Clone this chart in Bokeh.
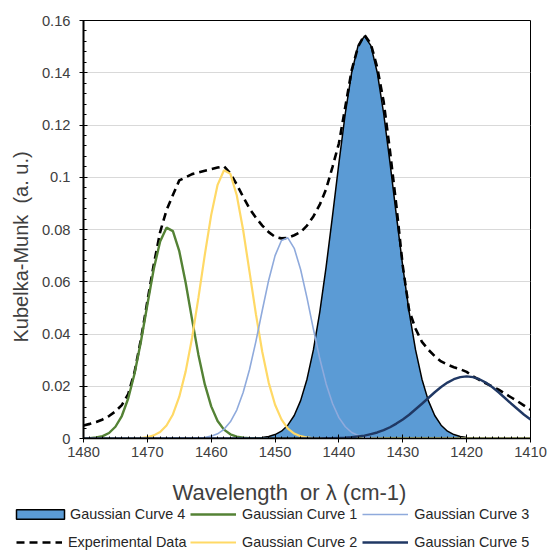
from bokeh.plotting import figure
from bokeh.models import (Range1d, SingleIntervalTicker, NumeralTickFormatter, Legend,
                          LegendItem, Title, Label)
from bokeh.embed import file_html
from bokeh.resources import INLINE

# wavenumber sample points (cm-1), 1480 -> 1410
wavenumber = list(range(1480, 1409, -1))

experimental = [
    0.0050, 0.0056, 0.0063, 0.0073, 0.0086, 0.0104, 0.0128, 0.0170, 0.0255, 0.0380,
    0.0525, 0.0665, 0.0790, 0.0874, 0.0932, 0.0988, 0.1000, 0.1012, 0.1018, 0.1025,
    0.1031, 0.1037, 0.1042, 0.1015, 0.0972, 0.0925, 0.0880, 0.0845, 0.0815, 0.0790,
    0.0772, 0.0766, 0.0768, 0.0778, 0.0790, 0.0815, 0.0850, 0.0895, 0.0955, 0.1040,
    0.1130, 0.1270, 0.1410, 0.1500, 0.1545, 0.1510, 0.1420, 0.1290, 0.1100, 0.0890,
    0.0660, 0.0490, 0.0420, 0.0370, 0.0340, 0.0315, 0.0295, 0.0283, 0.0273, 0.0265,
    0.0255, 0.0238, 0.0224, 0.0211, 0.0199, 0.0187, 0.0172, 0.0157, 0.0142, 0.0126,
    0.0110]

gauss1 = [
    0.0000, 0.0001, 0.0004, 0.0009, 0.0021, 0.0045, 0.0086, 0.0153, 0.0249, 0.0372,
    0.0512, 0.0649, 0.0754, 0.0807, 0.0794, 0.0717, 0.0596, 0.0456, 0.0320, 0.0207,
    0.0123, 0.0067, 0.0034, 0.0016, 0.0007, 0.0003, 0.0001, 0, 0, 0,
    0, 0, 0, 0, 0, 0, 0, 0, 0, 0,
    0, 0, 0, 0, 0, 0, 0, 0, 0, 0,
    0, 0, 0, 0, 0, 0, 0, 0, 0, 0,
    0, 0, 0, 0, 0, 0, 0, 0, 0, 0,
    0]

gauss2 = [
    0, 0, 0, 0, 0, 0, 0, 0, 0.0001, 0.0002,
    0.0005, 0.0012, 0.0025, 0.0050, 0.0092, 0.0160, 0.0257, 0.0385, 0.0539, 0.0704,
    0.0856, 0.0971, 0.1027, 0.1013, 0.0931, 0.0798, 0.0638, 0.0476, 0.0331, 0.0214,
    0.0129, 0.0073, 0.0038, 0.0019, 0.0009, 0.0004, 0.0001, 0.0001, 0, 0,
    0, 0, 0, 0, 0, 0, 0, 0, 0, 0,
    0, 0, 0, 0, 0, 0, 0, 0, 0, 0,
    0, 0, 0, 0, 0, 0, 0, 0, 0, 0,
    0]

gauss3 = [
    0, 0, 0, 0, 0, 0, 0, 0, 0, 0,
    0, 0, 0, 0, 0, 0, 0, 0, 0.0002, 0.0004,
    0.0009, 0.0018, 0.0035, 0.0064, 0.0109, 0.0176, 0.0264, 0.0372, 0.0491, 0.0606,
    0.0700, 0.0758, 0.0768, 0.0728, 0.0647, 0.0538, 0.0419, 0.0306, 0.0209, 0.0134,
    0.0080, 0.0045, 0.0023, 0.0012, 0.0005, 0.0002, 0.0001, 0, 0, 0,
    0, 0, 0, 0, 0, 0, 0, 0, 0, 0,
    0, 0, 0, 0, 0, 0, 0, 0, 0, 0,
    0]

gauss4 = [
    0, 0, 0, 0, 0, 0, 0, 0, 0, 0,
    0, 0, 0, 0, 0, 0, 0, 0, 0, 0,
    0, 0, 0, 0, 0, 0, 0.0001, 0.0002, 0.0004, 0.0008,
    0.0015, 0.0028, 0.0051, 0.0088, 0.0145, 0.0227, 0.0339, 0.0484, 0.0658, 0.0853,
    0.1055, 0.1245, 0.1401, 0.1504, 0.1540, 0.1504, 0.1401, 0.1245, 0.1055, 0.0853,
    0.0658, 0.0484, 0.0339, 0.0227, 0.0145, 0.0088, 0.0051, 0.0028, 0.0015, 0.0008,
    0.0004, 0.0002, 0.0001, 0, 0, 0, 0, 0, 0, 0,
    0]

gauss5 = [
    0, 0, 0, 0, 0, 0, 0, 0, 0, 0,
    0, 0, 0, 0, 0, 0, 0, 0, 0, 0,
    0, 0, 0, 0, 0, 0, 0, 0, 0, 0,
    0, 0, 0, 0, 0, 0, 0, 0, 0.0001, 0.0001,
    0.0002, 0.0003, 0.0005, 0.0008, 0.0011, 0.0017, 0.0023, 0.0032, 0.0043, 0.0057,
    0.0073, 0.0091, 0.0112, 0.0133, 0.0155, 0.0177, 0.0197, 0.0214, 0.0227, 0.0235,
    0.0238, 0.0235, 0.0227, 0.0214, 0.0197, 0.0177, 0.0155, 0.0133, 0.0112, 0.0091,
    0.0073]

FONT = "Liberation Sans"
TXT = "#404040"

STY4 = dict(fill_color="#5B9BD5", line_color="black", line_width=1.5)
STYE = dict(line_color="black", line_width=2.6, line_dash="8 5")
STY1 = dict(line_color="#548235", line_width=2.4)
STY2 = dict(line_color="#FFD966", line_width=2.2)
STY3 = dict(line_color="#8FAADC", line_width=1.6)
STY5 = dict(line_color="#203864", line_width=2.4)

p = figure(width=547, height=465, x_range=Range1d(1480, 1410), y_range=Range1d(0, 0.16),
           output_backend="svg", toolbar_location=None,
           min_border_left=83, min_border_right=17, min_border_top=20, min_border_bottom=27)
p.outline_line_color = "black"
p.outline_line_width = 1
p.xgrid.visible = False
p.ygrid.grid_line_color = "#D9D9D9"
p.ygrid.grid_line_width = 1.2

p.patch(wavenumber + [wavenumber[-1], wavenumber[0]], gauss4 + [0, 0], **STY4)
p.line(wavenumber, experimental, **STYE)
p.line(wavenumber, gauss1, **STY1)
p.line(wavenumber, gauss2, **STY2)
p.line(wavenumber, gauss3, **STY3)
p.line(wavenumber, gauss5, **STY5)

for ax in (p.xaxis[0], p.yaxis[0]):
    ax.major_label_text_font = FONT
    ax.major_label_text_font_size = "14.7px"
    ax.major_label_text_color = TXT
    ax.axis_line_color = "black"
    ax.major_tick_line_color = "black"
    ax.minor_tick_line_color = "black"

xa = p.xaxis[0]
xa.ticker = SingleIntervalTicker(interval=10, num_minor_ticks=10)
xa.major_tick_in = 4
xa.major_tick_out = 4
xa.minor_tick_in = 2
xa.minor_tick_out = 0
xa.axis_line_width = 1.5
xa.major_label_standoff = 4

ya = p.yaxis[0]
ya.ticker = SingleIntervalTicker(interval=0.02, num_minor_ticks=5)
ya.formatter = NumeralTickFormatter(format="0.[00]")
ya.major_tick_in = 4
ya.major_tick_out = 4
ya.minor_tick_in = 3
ya.minor_tick_out = 0
ya.axis_line_width = 2
ya.major_label_standoff = 9

# y axis title
p.add_layout(Title(text="Kubelka-Munk\u00a0 (a. u.)", align="left", offset=96,
                   text_font=FONT, text_font_size="20px", text_font_style="normal",
                   text_color=TXT, standoff=14), "left")

# strip below the chart: x axis title and legend
lg = figure(width=547, height=85, x_range=Range1d(0, 1), y_range=Range1d(0, 1),
            output_backend="svg", toolbar_location=None,
            x_axis_location=None, y_axis_location=None,
            min_border=0, min_border_left=0, min_border_right=0,
            min_border_top=0, min_border_bottom=0)
lg.outline_line_color = None
lg.grid.visible = False

lg.add_layout(Label(x=172, y=58.5, x_units="screen", y_units="screen",
                    text="Wavelength\u00a0 or λ (cm-1)", text_font=FONT,
                    text_font_size="22px", text_color=TXT,
                    text_align="left", text_baseline="alphabetic"))

nan = float("nan")
k4 = lg.patch([nan], [nan], **STY4)
ke = lg.line([nan], [nan], **STYE)
k1 = lg.line([nan], [nan], **STY1)
k2 = lg.line([nan], [nan], **STY2)
k3 = lg.line([nan], [nan], **STY3)
k5 = lg.line([nan], [nan], **STY5)


def make_legend(pairs, loc, gw, standoff=6):
    leg = Legend(items=[LegendItem(label=t, renderers=[r]) for t, r in pairs],
                 location=loc, orientation="horizontal")
    leg.label_text_font = FONT
    leg.label_text_font_size = "14.4px"
    leg.label_text_color = "#262626"
    leg.glyph_width = gw
    leg.glyph_height = 12
    leg.label_standoff = standoff
    leg.label_height = 12
    leg.spacing = 5
    leg.padding = 0
    leg.margin = 0
    leg.border_line_color = None
    leg.background_fill_alpha = 0
    return leg


lg.add_layout(make_legend([("Gaussian Curve 4", k4)], (10, 28.5), 60, 0))
lg.add_layout(make_legend([("Gaussian Curve 1", k1), ("Gaussian Curve 3", k3)], (190, 28.5), 46))
lg.add_layout(make_legend([("Experimental Data", ke)], (16, 0), 46))
lg.add_layout(make_legend([("Gaussian Curve 2", k2), ("Gaussian Curve 5", k5)], (190, 0), 46))

open("out.html", "w").write(file_html([p, lg], INLINE))
